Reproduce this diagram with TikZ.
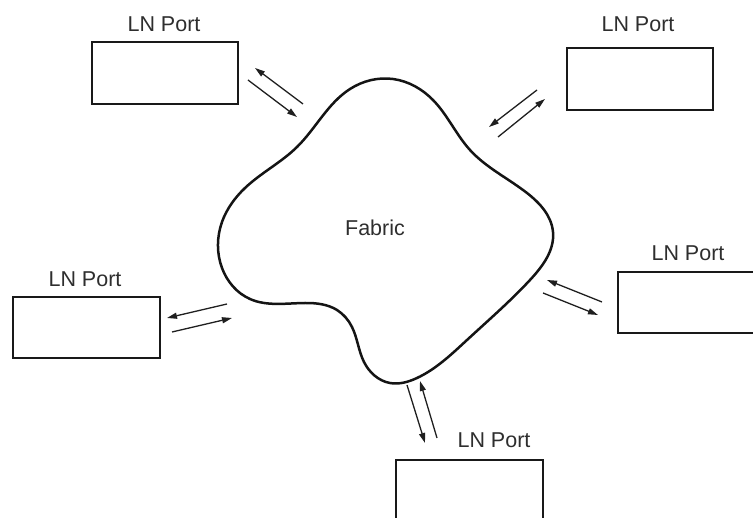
\documentclass[tikz,border=0pt]{standalone}
\usepackage{fontspec}
\setmainfont{Liberation Sans}
\usetikzlibrary{arrows.meta,hobby}
\begin{document}
\begin{tikzpicture}[x=1pt,y=-1pt,
  portbox/.style={draw=black!90,line width=2.4pt,minimum width=146pt,minimum height=62pt,inner sep=0pt,outer sep=0pt},
  portlabel/.style={text=black!82,font=\fontsize{21.5}{21.5}\selectfont,inner sep=0pt},
  flow/.style={draw=black!88,line width=1.3pt,-{Triangle[length=10pt,width=6pt]}},
  fabricline/.style={draw=black!92,line width=2.5pt}]
\useasboundingbox (0,0) rectangle (753,518);
\clip (0,0) rectangle (753,518);
% fabric cloud
\draw[fabricline] plot[closed hobby] coordinates {
  (393,79) (433,100) (470,150) (527,193)
  (553,232) (530,280) (467,340) (417,378)
  (390,383) (364,362) (352,327) (337,310) (305,303)
  (250,299) (222,268) (222,222) (245,188) (297,147)
  (350,89)};
\node[portlabel] (fabric) at (375,228) {Fabric};
% ports
\node[portbox] (p1) at (165,73) {};
\node[portlabel] (l1) at (164,24) {LN Port};
\node[portbox] (p2) at (640,79) {};
\node[portlabel] (l2) at (638,24) {LN Port};
\node[portbox,minimum width=147pt,minimum height=61pt] (p3) at (86.5,327.5) {};
\node[portlabel] (l3) at (85,279) {LN Port};
\node[portbox,minimum height=61pt] (p4) at (691,302.5) {};
\node[portlabel] (l4) at (688,253) {LN Port};
\node[portbox,minimum width=147pt] (p5) at (469.5,491) {};
\node[portlabel] (l5) at (494,440) {LN Port};
% arrow end points
\coordinate (a1s) at (303,104); \coordinate (a1e) at (255,68);
\coordinate (b1s) at (248,80);  \coordinate (b1e) at (297,117);
\coordinate (a2s) at (537,90);  \coordinate (a2e) at (489,127);
\coordinate (b2s) at (498,137); \coordinate (b2e) at (545,99);
\coordinate (a3s) at (227,304); \coordinate (a3e) at (167,318);
\coordinate (b3s) at (172,332); \coordinate (b3e) at (232,318);
\coordinate (a4s) at (602,302); \coordinate (a4e) at (547,280);
\coordinate (b4s) at (543,293); \coordinate (b4e) at (598,315);
\coordinate (a5s) at (407,385); \coordinate (a5e) at (425,443);
\coordinate (b5s) at (437,438); \coordinate (b5e) at (420,381);
\draw[flow] (a1s) -- (a1e);
\draw[flow] (b1s) -- (b1e);
\draw[flow] (a2s) -- (a2e);
\draw[flow] (b2s) -- (b2e);
\draw[flow] (a3s) -- (a3e);
\draw[flow] (b3s) -- (b3e);
\draw[flow] (a4s) -- (a4e);
\draw[flow] (b4s) -- (b4e);
\draw[flow] (a5s) -- (a5e);
\draw[flow] (b5s) -- (b5e);
\end{tikzpicture}
\end{document}
